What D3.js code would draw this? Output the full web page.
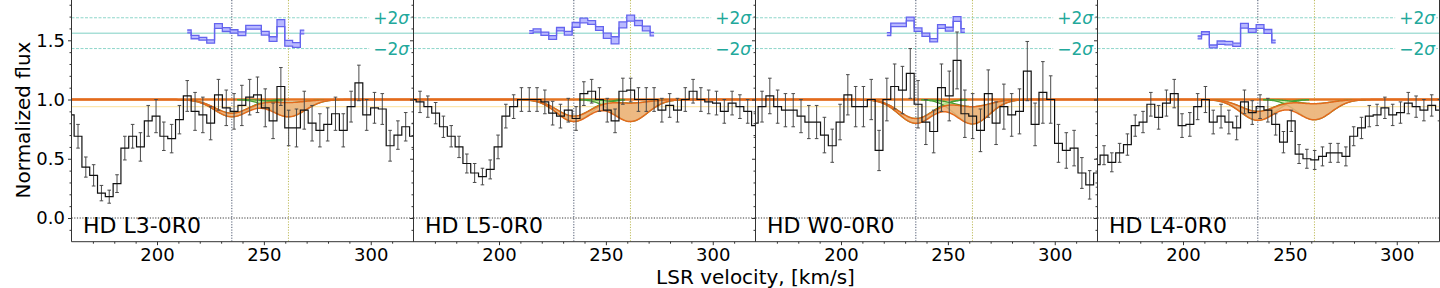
<!DOCTYPE html>
<html><head><meta charset="utf-8">
<script src="https://cdn.jsdelivr.net/npm/d3@7"></script>
<style>
body{margin:0;background:#fff}
svg{display:block}
text{font-family:"DejaVu Sans",sans-serif}
</style>
</head><body>
<svg id="c" width="1440" height="288"></svg>
<script>
// ---------------- DATA ----------------
const velocity = [159.4,163.05,166.7,170.35,174.0,177.65,181.3,184.95,188.6,192.25,195.9,199.55,203.2,206.85,210.5,214.15,217.8,221.45,225.1,228.75,232.4,236.05,239.7,243.35,247.0,250.65,254.3,257.95,261.6,265.25,268.9,272.55,276.2,279.85,283.5,287.15,290.8,294.45,298.1,301.75,305.4,309.05,312.7,316.35,320.0];

const panelLabels = ["HD L3-0R0","HD L5-0R0","HD W0-0R0","HD L4-0R0"];

const flux1 = [0.87,0.69,0.43,0.36,0.21,0.18,0.29,0.59,0.69,0.60,0.82,0.86,0.69,0.67,0.83,1.03,0.90,0.87,0.80,1.04,0.93,0.90,0.95,1.02,1.04,0.93,0.82,1.11,0.76,0.76,0.91,0.80,0.74,0.79,0.88,0.74,0.94,1.14,0.87,0.93,0.92,0.61,0.70,0.77,0.69];
const err1  = [0.10,0.10,0.085,0.09,0.065,0.055,0.075,0.10,0.10,0.12,0.13,0.14,0.12,0.12,0.12,0.13,0.16,0.15,0.14,0.13,0.15,0.15,0.17,0.15,0.15,0.16,0.15,0.16,0.15,0.16,0.16,0.15,0.14,0.14,0.14,0.14,0.13,0.15,0.13,0.13,0.13,0.13,0.12,0.12,0.11];

const flux2 = [1.00,0.98,0.94,0.885,0.77,0.69,0.60,0.46,0.38,0.35,0.41,0.60,0.86,0.94,1.00,1.00,1.00,0.98,0.885,0.86,0.91,0.84,1.05,1.07,1.00,0.91,0.82,1.07,1.08,1.00,1.00,1.00,0.91,0.95,0.91,1.00,1.07,1.00,0.98,0.97,0.90,0.97,0.94,0.90,0.78];
const err2  = [0.09,0.09,0.09,0.09,0.09,0.09,0.09,0.08,0.08,0.07,0.08,0.10,0.10,0.10,0.10,0.10,0.10,0.10,0.10,0.10,0.10,0.10,0.10,0.10,0.10,0.10,0.10,0.11,0.10,0.10,0.10,0.10,0.10,0.10,0.10,0.10,0.10,0.10,0.10,0.10,0.10,0.10,0.10,0.10,0.10];

const flux3 = [0.80,0.94,1.03,0.94,0.91,0.91,0.86,0.81,0.81,0.70,0.61,0.81,1.04,0.94,0.94,1.00,0.57,1.00,1.11,1.08,1.22,0.96,0.81,0.73,1.10,1.03,1.33,0.88,0.86,0.74,1.05,0.80,0.94,0.87,0.90,1.24,0.79,1.06,1.00,0.63,0.57,0.59,0.38,0.28,0.38];
const err3  = [0.12,0.13,0.15,0.14,0.14,0.14,0.14,0.14,0.14,0.15,0.14,0.15,0.17,0.17,0.17,0.17,0.17,0.18,0.19,0.20,0.21,0.20,0.19,0.18,0.20,0.21,0.24,0.20,0.19,0.18,0.20,0.18,0.19,0.18,0.19,0.25,0.18,0.26,0.20,0.16,0.15,0.15,0.13,0.12,0.12];

const flux4 = [0.45,0.53,0.47,0.55,0.62,0.78,0.81,0.96,0.85,0.97,1.05,0.78,0.79,0.94,1.00,0.81,0.86,0.81,0.76,0.98,0.89,0.94,0.91,0.79,0.64,0.82,0.54,0.50,0.49,0.52,0.55,0.55,0.52,0.69,0.76,0.86,0.87,0.93,0.87,0.89,0.97,0.94,0.91,0.95,0.91];
const err4  = [0.09,0.08,0.08,0.08,0.09,0.09,0.09,0.10,0.10,0.11,0.12,0.10,0.10,0.11,0.11,0.10,0.10,0.10,0.10,0.10,0.10,0.10,0.10,0.09,0.09,0.09,0.08,0.08,0.08,0.08,0.08,0.08,0.08,0.08,0.09,0.09,0.09,0.09,0.09,0.09,0.09,0.09,0.09,0.09,0.09];

// residual step bands (start index into velocity grid, centre values, half widths)
const residualStart = [15,15,17,13];
const resid1 = [1.575,1.527,1.513,1.49,1.62,1.59,1.575,1.555,1.61,1.61,1.56,1.51,1.645,1.475,1.46,1.57];
const residHw1 = [0.012,0.014,0.012,0.014,0.02,0.016,0.014,0.016,0.016,0.016,0.016,0.02,0.03,0.025,0.02,0.016];
const resid2 = [1.57,1.583,1.555,1.524,1.594,1.56,1.63,1.667,1.65,1.60,1.538,1.50,1.63,1.687,1.645,1.60,1.552];
const residHw2 = [0.012,0.014,0.014,0.016,0.014,0.016,0.02,0.02,0.016,0.016,0.022,0.03,0.025,0.025,0.022,0.02,0.014];
const resid3 = [1.552,1.63,1.63,1.68,1.59,1.547,1.50,1.617,1.594,1.68,1.583];
const residHw3 = [0.012,0.014,0.014,0.016,0.014,0.014,0.014,0.016,0.016,0.02,0.016];
const resid4 = [1.524,1.56,1.448,1.48,1.476,1.462,1.622,1.583,1.617,1.575,1.49];
const residHw4 = [0.012,0.012,0.012,0.014,0.014,0.014,0.02,0.016,0.016,0.016,0.012];

const residualLevels = [1.56, 1.69, 1.43];   // centre, +2σ, −2σ
const sigmaLabels = ["+2", "\u22122"];

// Gaussian fit components (centres, width, depth ranges per panel)
const componentCenters = [235, 261.5];
const componentSigma = 8;
const depthAmin = [0.115,0.14,0.16,0.10];
const depthAmax = [0.145,0.185,0.20,0.175];
const depthBmin = [0.025,0.03,0.06,0.035];
const depthBmax = [0.145,0.185,0.205,0.17];

const xTicks = [200,250,300];
const xMinor = [170,180,190,210,220,230,240,260,270,280,290,310];
const yTicks = [0.0,0.5,1.0,1.5];
const yMinor = [-0.1,0.1,0.2,0.3,0.4,0.6,0.7,0.8,0.9,1.1,1.2,1.3,1.4,1.6,1.7,1.8];

// ---------------- LAYOUT ----------------
const left0 = 71.5, panelW = 342, plotTop = 0, plotBottom = 241.7;
const svg = d3.select("#c");
const x = d3.scaleLinear().domain([160,320]).range([0,panelW]);
const y = d3.scaleLinear().domain([-0.2,1.84]).range([plotBottom,plotTop]);

const panels = [
  {flux:flux1, err:err1, res:resid1, hw:residHw1},
  {flux:flux2, err:err2, res:resid2, hw:residHw2},
  {flux:flux3, err:err3, res:resid3, hw:residHw3},
  {flux:flux4, err:err4, res:resid4, hw:residHw4}
];

const gauss = (v,c) => Math.exp(-0.5*((v-c)/componentSigma)**2);
const modelGrid = d3.range(160, 320.01, 0.5);

const defs = svg.append("defs");
defs.append("clipPath").attr("id","clip").append("rect")
  .attr("x",0).attr("y",plotTop).attr("width",panelW).attr("height",plotBottom-plotTop);

panels.forEach((p,i)=>{
  const g = svg.append("g").attr("transform",`translate(${left0+i*panelW},0)`);
  const pc = g.append("g").attr("clip-path","url(#clip)");

  // residual reference lines
  pc.append("line").attr("x1",0).attr("x2",panelW)
    .attr("y1",y(residualLevels[0])).attr("y2",y(residualLevels[0]))
    .attr("stroke","#7fd0c4").attr("stroke-width",1);
  [1,2].forEach(j=>{
    pc.append("line").attr("x1",0).attr("x2",panelW)
      .attr("y1",y(residualLevels[j])).attr("y2",y(residualLevels[j]))
      .attr("stroke","#8ed6ca").attr("stroke-width",1).attr("stroke-dasharray","3,1.5");
  });

  // zero line
  pc.append("line").attr("x1",0).attr("x2",panelW).attr("y1",y(0)).attr("y2",y(0))
    .attr("stroke","#222").attr("stroke-width",0.9).attr("stroke-dasharray","1.2,1.5");

  // vertical component markers
  pc.append("line").attr("x1",x(componentCenters[0])).attr("x2",x(componentCenters[0]))
    .attr("y1",plotTop).attr("y2",plotBottom)
    .attr("stroke","#3a4660").attr("stroke-width",0.9).attr("stroke-dasharray","1.2,1.5");
  pc.append("line").attr("x1",x(componentCenters[1])).attr("x2",x(componentCenters[1]))
    .attr("y1",plotTop).attr("y2",plotBottom)
    .attr("stroke","#b8b44a").attr("stroke-width",0.9).attr("stroke-dasharray","1.2,1.5");

  // pale line
  pc.append("line").attr("x1",0).attr("x2",panelW).attr("y1",y(0.94)).attr("y2",y(0.94))
    .attr("stroke","#fce6ad").attr("stroke-width",1.3);

  // continuum
  pc.append("line").attr("x1",0).attr("x2",panelW).attr("y1",y(1)).attr("y2",y(1))
    .attr("stroke","#e5731f").attr("stroke-width",2.4);

  // green individual components
  const comps = [[depthAmin[i],depthAmax[i]],[depthBmin[i],depthBmax[i]]];
  componentCenters.forEach((c,j)=>{
    const vs = d3.range(c-24, c+24.01, 0.5);
    const area = d3.area().x(v=>x(v)).y0(v=>y(1-comps[j][1]*gauss(v,c))).y1(v=>y(1-comps[j][0]*gauss(v,c)));
    pc.append("path").datum(vs).attr("d",area).attr("fill","#c8e69c").attr("opacity",0.85);
    [0,1].forEach(k=>{
      pc.append("path").datum(vs)
        .attr("d",d3.line().x(v=>x(v)).y(v=>y(1-comps[j][k]*gauss(v,c))))
        .attr("fill","none").attr("stroke","#46a032").attr("stroke-width",1.3);
    });
  });

  // orange total model band
  const lo = v => 1 - depthAmax[i]*gauss(v,componentCenters[0]) - depthBmax[i]*gauss(v,componentCenters[1]);
  const hi = v => 1 - depthAmin[i]*gauss(v,componentCenters[0]) - depthBmin[i]*gauss(v,componentCenters[1]);
  pc.append("path").datum(modelGrid)
    .attr("d",d3.area().x(v=>x(v)).y0(v=>y(lo(v))).y1(v=>y(hi(v))))
    .attr("fill","#f2b07a").attr("opacity",0.85);
  [lo,hi].forEach(f=>{
    pc.append("path").datum(modelGrid)
      .attr("d",d3.line().x(v=>x(v)).y(v=>y(f(v))))
      .attr("fill","none").attr("stroke","#e36a1c").attr("stroke-width",1.5);
  });

  // error bars
  const eb = pc.append("g").attr("stroke","#4a4a4a").attr("stroke-width",1);
  velocity.forEach((v,k)=>{
    const xv = x(v), y1 = y(p.flux[k]+p.err[k]), y2 = y(p.flux[k]-p.err[k]);
    eb.append("line").attr("x1",xv).attr("x2",xv).attr("y1",y1).attr("y2",y2);
    eb.append("line").attr("x1",xv-1.8).attr("x2",xv+1.8).attr("y1",y1).attr("y2",y1);
    eb.append("line").attr("x1",xv-1.8).attr("x2",xv+1.8).attr("y1",y2).attr("y2",y2);
  });

  // data step line
  pc.append("path").datum(velocity.map((v,k)=>[v,p.flux[k]]))
    .attr("d",d3.line().x(d=>x(d[0])).y(d=>y(d[1])).curve(d3.curveStep))
    .attr("fill","none").attr("stroke","#111").attr("stroke-width",1.2);

  // residual band
  const rs = residualStart[i];
  const rd = p.res.map((r,k)=>[velocity[rs+k], r-p.hw[k], r+p.hw[k]]);
  pc.append("path").datum(rd)
    .attr("d",d3.area().x(d=>x(d[0])).y0(d=>y(d[1])).y1(d=>y(d[2])).curve(d3.curveStep))
    .attr("fill","#b9b9ff");
  [1,2].forEach(k=>{
    pc.append("path").datum(rd)
      .attr("d",d3.line().x(d=>x(d[0])).y(d=>y(d[k])).curve(d3.curveStep))
      .attr("fill","none").attr("stroke","#6464ee").attr("stroke-width",1.3);
  });

  // sigma labels
  [1,2].forEach(j=>{
    const t = g.append("text").attr("x",panelW-4.5).attr("y",y(residualLevels[j])+6.3)
      .attr("text-anchor","end").attr("font-size",17).attr("fill","#22a89b");
    t.append("tspan").text(sigmaLabels[j-1]);
    t.append("tspan").attr("font-style","italic").text("σ");
    const bb = t.node().getBBox();
    g.insert("rect", () => t.node()).attr("x",bb.x-4).attr("y",bb.y+1).attr("width",bb.width+4)
      .attr("height",bb.height-2).attr("fill","#fff");
  });

  // panel label
  g.append("text").attr("x",11.5).attr("y",232.7).attr("font-size",22).attr("fill","#000")
    .text(panelLabels[i]);

  // axes
  const xa = g.append("g").attr("transform",`translate(0,${plotBottom})`);
  xa.call(d3.axisBottom(x).tickValues(xTicks).tickSize(3.5).tickPadding(3).tickFormat(d3.format("d")));
  xa.call(gg=>gg.selectAll("text").attr("font-size",18).attr("font-family","DejaVu Sans").attr("fill","#000"));
  const xm = g.append("g").attr("transform",`translate(0,${plotBottom})`);
  xm.call(d3.axisBottom(x).tickValues(xMinor).tickSize(2).tickFormat(""));
  const ya = g.append("g");
  ya.call(d3.axisLeft(y).tickValues(yTicks).tickSize(3.5).tickPadding(3)
    .tickFormat(i===0 ? d3.format(".1f") : ""));
  ya.call(gg=>gg.selectAll("text").attr("font-size",18).attr("font-family","DejaVu Sans").attr("fill","#000"));
  const ym = g.append("g");
  ym.call(d3.axisLeft(y).tickValues(yMinor).tickSize(2).tickFormat(""));
  [xa,xm,ya,ym].forEach(a=>{a.select(".domain").remove(); a.selectAll("line").attr("stroke","#333");});

  // spines
  g.append("path").attr("d",`M0,${plotTop-1}V${plotBottom}H${panelW}V${plotTop-1}`)
    .attr("fill","none").attr("stroke","#333").attr("stroke-width",1);
});

// axis titles
svg.append("text").attr("transform",`translate(30,120) rotate(-90)`).attr("text-anchor","middle")
  .attr("font-size",20).attr("fill","#000").text("Normalized flux");
svg.append("text").attr("x",755.5).attr("y",284).attr("text-anchor","middle")
  .attr("font-size",20).attr("fill","#000").text("LSR velocity, [km/s]");
</script>
</body></html>
